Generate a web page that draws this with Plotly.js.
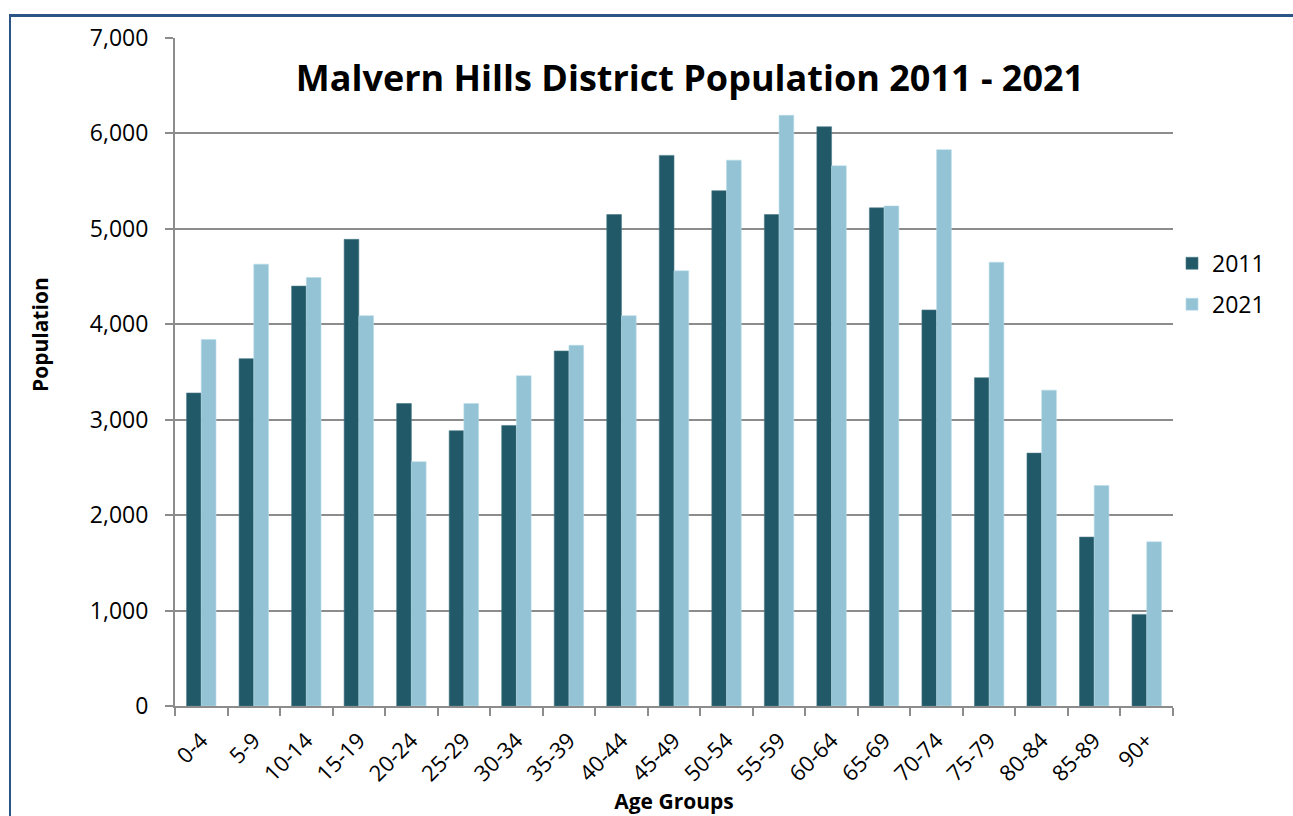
<!DOCTYPE html>
<html>
<head>
<meta charset="utf-8">
<script src="https://cdn.plot.ly/plotly-3.0.1.min.js"></script>
<style>
  html, body { margin: 0; padding: 0; background: #ffffff; overflow: hidden; }
  #frame { position: absolute; left: 9px; top: 14px; width: 1400px; height: 900px;
           border-left: 2px solid #2B5487; border-top: 3px solid #2B5487; box-sizing: border-box; }
  #chart { position: absolute; left: 0; top: 0; width: 1293px; height: 816px; }
</style>
</head>
<body>
<div id="frame"></div>
<div id="chart"></div>
<script>
const ageGroups = ["0-4","5-9","10-14","15-19","20-24","25-29","30-34","35-39","40-44","45-49",
                   "50-54","55-59","60-64","65-69","70-74","75-79","80-84","85-89","90+"];
const pop2011 = [3280,3640,4400,4890,3170,2885,2940,3720,5150,5770,5400,5150,6070,5220,4150,3440,2650,1770,960];
const pop2021 = [3840,4630,4490,4090,2560,3170,3460,3780,4090,4560,5720,6190,5660,5240,5830,4650,3310,2310,1720];
const yTickVals = [0,1000,2000,3000,4000,5000,6000,7000];
const yTickText = ["0","1,000","2,000","3,000","4,000","5,000","6,000","7,000"];

const FONT = "Open Sans, sans-serif";

const traces = [
  { type: "bar", name: "2011", x: ageGroups, y: pop2011, legendgroup: "g2011",
    marker: { color: "#215968", line: { color: "#4A7A88", width: 0.6 } } },
  { type: "bar", name: "2021", x: ageGroups, y: pop2021, legendgroup: "g2021",
    marker: { color: "#93C3D5", line: { color: "#B9DCE8", width: 0.6 } } }
];

const layout = {
  width: 1293, height: 816,
  paper_bgcolor: "rgba(0,0,0,0)", plot_bgcolor: "rgba(0,0,0,0)",
  margin: { l: 175, r: 120, t: 38, b: 110, autoexpand: false },
  barmode: "group", bargap: 0.44, bargroupgap: 0,
  font: { family: FONT, color: "#000000", size: 20 },
  title: { text: "<b>Malvern Hills District Population 2011 - 2021</b>",
           font: { family: FONT, size: 36, color: "#000000" },
           xref: "paper", x: 0.516, xanchor: "center",
           yref: "container", y: 1 - 78/816, yanchor: "middle" },
  xaxis: {
    type: "category", tickson: "boundaries", ticks: "outside", ticklen: 8,
    tickcolor: "#8C8C8C", tickwidth: 2, showline: true, linecolor: "#8C8C8C", linewidth: 2,
    showgrid: false, tickangle: -45, tickfont: { family: FONT, size: 22 },
    ticklabelstandoff: 11,
    title: { text: "<b>Age Groups</b>", font: { family: FONT, size: 21 }, standoff: 8 },
    automargin: false
  },
  yaxis: {
    range: [0, 7000], tickvals: yTickVals, ticktext: yTickText,
    ticks: "outside", ticklen: 8, tickcolor: "#8C8C8C", tickwidth: 2,
    showline: true, linecolor: "#8C8C8C", linewidth: 2,
    showgrid: true, gridcolor: "#8C8C8C", gridwidth: 2, zeroline: false,
    tickfont: { family: FONT, size: 23 }, ticklabelstandoff: 12,
    automargin: false
  },
  annotations: [
    { text: "<b>Population</b>", xref: "paper", yref: "paper",
      x: (40 - 175) / 998, y: (706 - 335) / 668, xanchor: "center", yanchor: "middle",
      textangle: -90, showarrow: false, font: { family: FONT, size: 21, color: "#000000" } }
  ],
  legend: { x: 0.999, xanchor: "left", y: 0.632, yanchor: "middle",
            font: { family: FONT, size: 23 }, itemwidth: 30, tracegroupgap: 8,
            bgcolor: "rgba(0,0,0,0)" },
  showlegend: true
};

Plotly.newPlot("chart", traces, layout, { displayModeBar: false, staticPlot: true });
</script>
</body>
</html>
